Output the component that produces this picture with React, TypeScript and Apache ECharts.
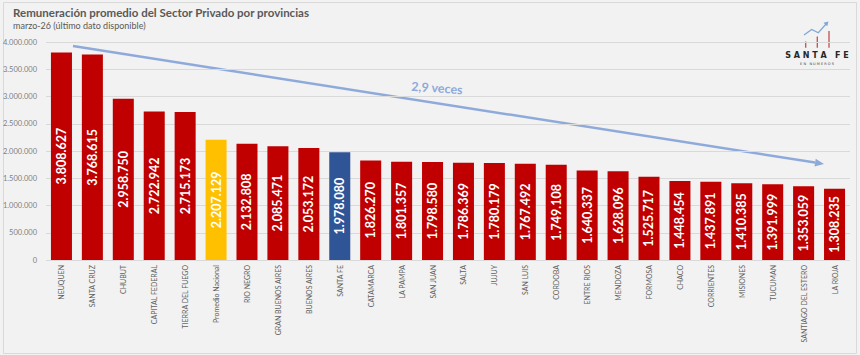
import React, { useEffect, useRef } from "react";
import * as echarts from "echarts";

const provinces = [
  "NEUQUEN", "SANTA CRUZ", "CHUBUT", "CAPITAL FEDERAL", "TIERRA DEL FUEGO",
  "Promedio Nacional", "RIO NEGRO", "GRAN BUENOS AIRES", "BUENOS AIRES", "SANTA FE",
  "CATAMARCA", "LA PAMPA", "SAN JUAN", "SALTA", "JUJUY", "SAN LUIS", "CORDOBA",
  "ENTRE RIOS", "MENDOZA", "FORMOSA", "CHACO", "CORRIENTES", "MISIONES",
  "TUCUMAN", "SANTIAGO DEL ESTERO", "LA RIOJA",
];

const salaries = [
  3808627, 3768615, 2958750, 2722942, 2715173, 2207129, 2132808, 2085471,
  2053172, 1978080, 1826270, 1801357, 1798580, 1786369, 1780179, 1767492,
  1749108, 1640337, 1628096, 1525717, 1448454, 1437891, 1410385, 1391999,
  1353059, 1308235,
];

const yTicks = { min: 0, max: 4000000, interval: 500000 };

const titleText = "Remuneración promedio del Sector Privado por provincias";
const subtitleText = "marzo-26 (último dato disponible)";
const ratioText = "2,9 veces";

const RED = "#c00000";
const YELLOW = "#ffc000";
const BLUE = "#2f5597";
const ARROW = "#8eaadb";

const fmt = (v: number) => String(Math.round(v)).replace(/\B(?=(\d{3})+(?!\d))/g, ".");

const barColor = (name: string) =>
  name === "Promedio Nacional" ? YELLOW : name === "SANTA FE" ? BLUE : RED;

export default function App() {
  const ref = useRef<HTMLDivElement>(null);

  useEffect(() => {
    document.body.style.margin = "0";
    if (!ref.current) return;
    const chart = echarts.init(ref.current, null, { renderer: "svg" });
    const font = "Lato, 'Open Sans', sans-serif";

    // trend arrow from the top provinces down to the lowest ones
    const x1 = 73, y1 = 46, x2 = 824, y2 = 164;
    const ang = Math.atan2(y2 - y1, x2 - x1);
    const hl = 9, hw = 4;
    const bx = x2 - hl * Math.cos(ang), by = y2 - hl * Math.sin(ang);
    const head = [
      [x2, y2],
      [bx + hw * Math.sin(ang), by - hw * Math.cos(ang)],
      [bx - hw * Math.sin(ang), by + hw * Math.cos(ang)],
    ];

    chart.setOption({
      animation: false,
      backgroundColor: "#f2f2f2",
      textStyle: { fontFamily: font },
      grid: { left: 43, right: 10, top: 42, bottom: 95, containLabel: false },
      xAxis: {
        type: "category",
        data: provinces,
        axisTick: { show: false },
        axisLine: { show: false },
        axisLabel: {
          rotate: 90,
          interval: 0,
          fontSize: 7,
          color: "#606060",
          margin: 5,
          fontFamily: font,
        },
      },
      yAxis: {
        type: "value",
        min: yTicks.min,
        max: yTicks.max,
        interval: yTicks.interval,
        axisLine: { show: false },
        axisTick: { show: false },
        splitLine: { lineStyle: { color: "#d9d9d9", width: 1 } },
        axisLabel: {
          fontSize: 7.5,
          color: "#7f7f7f",
          margin: 9,
          formatter: (v: number) => fmt(v),
        },
      },
      series: [
        {
          type: "bar",
          barCategoryGap: "32%",
          data: provinces.map((p, i) => ({
            value: salaries[i],
            itemStyle: { color: barColor(p) },
          })),
          label: {
            show: true,
            position: "inside",
            rotate: 90,
            color: "#ffffff",
            fontWeight: "bold",
            fontSize: 12.5,
            fontFamily: font,
            formatter: (p: any) => fmt(p.value),
          },
        },
      ],
      graphic: [
        {
          type: "text",
          left: 13,
          top: 6,
          style: { text: titleText, fontSize: 11.5, fontWeight: "bold", fill: "#595959", fontFamily: font },
        },
        {
          type: "text",
          left: 13,
          top: 21,
          style: { text: subtitleText, fontSize: 9, fill: "#595959", fontFamily: font },
        },
        {
          type: "line",
          shape: { x1, y1, x2: bx, y2: by },
          style: { stroke: ARROW, lineWidth: 2.5 },
        },
        { type: "polygon", shape: { points: head }, style: { fill: ARROW } },
        {
          type: "text",
          x: 437,
          y: 88,
          rotation: -0.07,
          style: {
            text: ratioText,
            fontSize: 12.5,
            fontWeight: "bold",
            fill: ARROW,
            align: "center",
            verticalAlign: "middle",
            fontFamily: font,
          },
        },
        // logo
        {
          type: "group",
          children: [
            { type: "line", shape: { x1: 805.7, y1: 41.5, x2: 805.7, y2: 47.7 }, style: { stroke: "#c0504d", lineWidth: 1.3 } },
            { type: "line", shape: { x1: 817.3, y1: 36.5, x2: 817.3, y2: 47.7 }, style: { stroke: "#c0504d", lineWidth: 1.3 } },
            { type: "line", shape: { x1: 829, y1: 31, x2: 829, y2: 47.7 }, style: { stroke: "#c0504d", lineWidth: 1.3 } },
            {
              type: "polyline",
              shape: { points: [[804, 35], [811.7, 29.5], [818.3, 32.7], [826.5, 23.5]] },
              style: { stroke: "#7ea6d6", lineWidth: 1.2, fill: "none" },
            },
            { type: "polygon", shape: { points: [[828.5, 21.5], [823.5, 22.8], [827.2, 26.2]] }, style: { fill: "#7ea6d6" } },
            {
              type: "text",
              x: 817,
              y: 55,
              style: {
                text: "S A N T A   F E",
                fontSize: 8,
                fontWeight: "bold",
                fill: "#262626",
                align: "center",
                verticalAlign: "middle",
                fontFamily: "'DejaVu Sans', sans-serif",
              },
            },
            {
              type: "text",
              x: 817,
              y: 63.5,
              style: {
                text: "E N   N U M E R O S",
                fontSize: 3.5,
                fill: "#404040",
                align: "center",
                verticalAlign: "middle",
                fontFamily: "'DejaVu Sans', sans-serif",
              },
            },
          ],
        },
        {
          type: "rect",
          shape: { x: 3.5, y: 2.5, width: 853, height: 351 },
          style: { fill: "none", stroke: "#d9d9d9", lineWidth: 1 },
          silent: true,
        },
      ],
    });
    return () => chart.dispose();
  }, []);

  return <div ref={ref} style={{ width: 860, height: 355 }} />;
}
